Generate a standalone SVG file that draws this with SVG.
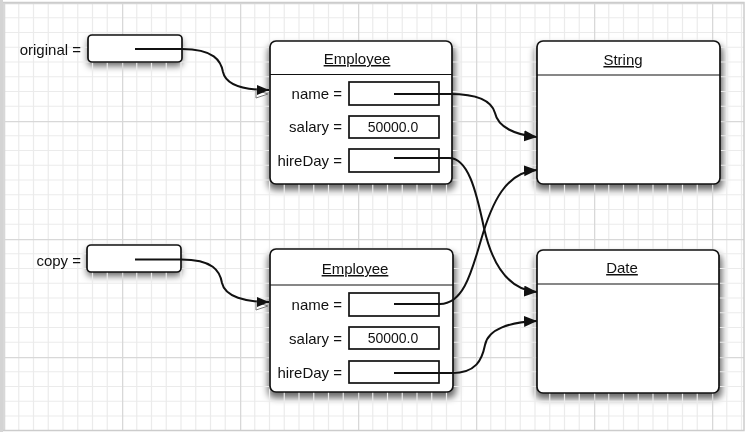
<svg xmlns="http://www.w3.org/2000/svg" width="746" height="432" viewBox="0 0 746 432">
<defs>
<style>
text{font-family:"Liberation Sans",Arial,sans-serif;font-size:15px;fill:#111}
.num{font-size:14px;text-anchor:middle}
.lbl{text-anchor:end}
.ttl{text-anchor:middle;text-decoration:underline}
.box{fill:#fff;stroke:#111;stroke-width:1.7}
.fld{fill:#fff;stroke:#111;stroke-width:1.7}
.sep{stroke:#111;stroke-width:1.2}
.sh{fill:#000;opacity:0.6}
.con{fill:none;stroke:#111;stroke-width:2}
</style>
<filter id="blur" x="-20%" y="-30%" width="140%" height="170%">
<feGaussianBlur stdDeviation="3.5"/>
</filter>
<pattern id="grid" patternUnits="userSpaceOnUse" x="4" y="3" width="118" height="118">
<path d="M14.75,0V118M29.5,0V118M44.25,0V118M59,0V118M73.75,0V118M88.5,0V118M103.25,0V118M0,14.75H118M0,29.5H118M0,44.25H118M0,59H118M0,73.75H118M0,88.5H118M0,103.25H118" stroke="#ebebeb" stroke-width="1.2" fill="none"/>
<path d="M0.6,0V118M0,0.6H118" stroke="#d8d8d8" stroke-width="1.4" fill="none"/>
</pattern>
<marker id="arr" markerUnits="userSpaceOnUse" markerWidth="15" markerHeight="12" refX="13" refY="5.5" orient="auto">
<path d="M0,0L13,5.5L0,11Z" fill="#111"/>
</marker>
<marker id="arrH" markerUnits="userSpaceOnUse" markerWidth="18" markerHeight="16" refX="14" refY="5" orient="auto">
<path d="M1,5L13,9L1,13Z" fill="#fff" stroke="#777" stroke-width="1"/>
<path d="M2,0L14,5L2,10Z" fill="#111"/>
</marker>
</defs>
<rect x="0" y="0" width="746" height="432" fill="#fff"/>
<g id="shadows" filter="url(#blur)">
<rect class="sh" x="88" y="39" width="94" height="27" rx="4"/>
<rect class="sh" x="87" y="249" width="94" height="27" rx="4"/>
<rect class="sh" x="268" y="45" width="187" height="145" rx="7"/>
<rect class="sh" x="268" y="253" width="188" height="145" rx="7"/>
<rect class="sh" x="535" y="45" width="188" height="145" rx="7"/>
<rect class="sh" x="535" y="254" width="187" height="145" rx="7"/>
</g>
<rect id="gridlines" x="4" y="3" width="740" height="428" fill="url(#grid)"/>
<rect id="frame" x="3" y="2.5" width="741" height="428" fill="none" stroke="#cccccc" stroke-width="1.5"/>
<rect x="0" y="0" width="3" height="432" fill="#d4d4d4"/>
<g id="var-original">
<text class="lbl" x="81" y="55">original =</text>
<rect class="box" x="88" y="35" width="94" height="27" rx="4"/>
</g>
<g id="var-copy">
<text class="lbl" x="81" y="266">copy =</text>
<rect class="box" x="87" y="245" width="94" height="27" rx="4"/>
</g>
<g id="employee1">
<rect class="box" x="270" y="41" width="182" height="143" rx="6"/>
<line class="sep" x1="270" y1="74.5" x2="452" y2="74.5"/>
<text class="ttl" x="357" y="64">Employee</text>
<text class="lbl" x="342" y="99">name =</text>
<rect class="fld" x="349" y="82" width="90" height="23"/>
<text class="lbl" x="342" y="132">salary =</text>
<rect class="fld" x="349" y="116" width="90" height="22"/>
<text class="num" x="393" y="132">50000.0</text>
<text class="lbl" x="342" y="166">hireDay =</text>
<rect class="fld" x="349" y="149" width="90" height="23"/>
</g>
<g id="employee2">
<rect class="box" x="270" y="249" width="183" height="143" rx="6"/>
<line class="sep" x1="270" y1="285" x2="453" y2="285"/>
<text class="ttl" x="355" y="274">Employee</text>
<text class="lbl" x="342" y="310">name =</text>
<rect class="fld" x="349" y="293" width="90" height="23"/>
<text class="lbl" x="342" y="343.5">salary =</text>
<rect class="fld" x="349" y="327" width="90" height="22"/>
<text class="num" x="393" y="343">50000.0</text>
<text class="lbl" x="342" y="377.5">hireDay =</text>
<rect class="fld" x="349" y="361" width="90" height="22"/>
</g>
<g id="string">
<rect class="box" x="537" y="41" width="183" height="143" rx="6"/>
<line class="sep" x1="537" y1="75" x2="720" y2="75"/>
<text class="ttl" x="623" y="65">String</text>
</g>
<g id="date">
<rect class="box" x="537" y="250" width="182" height="143" rx="6"/>
<line class="sep" x1="537" y1="284" x2="719" y2="284"/>
<text class="ttl" x="622" y="273">Date</text>
</g>
<g id="connectors">
<path class="con" marker-end="url(#arrH)" d="M135,49H182C214,49 221,61 223,72C226,86 246,90 269,90"/>
<path class="con" marker-end="url(#arrH)" d="M135,259.5H181C213,259.5 220,271 222,283C225,297 246,302 269,302"/>
<path class="con" marker-end="url(#arr)" d="M394,94H450C480,94 492,102 495,113C498,127 515,135 537,137"/>
<path class="con" marker-end="url(#arr)" d="M394,158H449C468,158 476,190 484,228C493,268 510,290 537,292"/>
<path class="con" marker-end="url(#arr)" d="M394,304H440C464,304 472,270 481,240C492,202 506,172 537,170"/>
<path class="con" marker-end="url(#arr)" d="M394,373H452C476,373 482,360 485,345C488,329 510,322 537,321"/>
</g>
</svg>
